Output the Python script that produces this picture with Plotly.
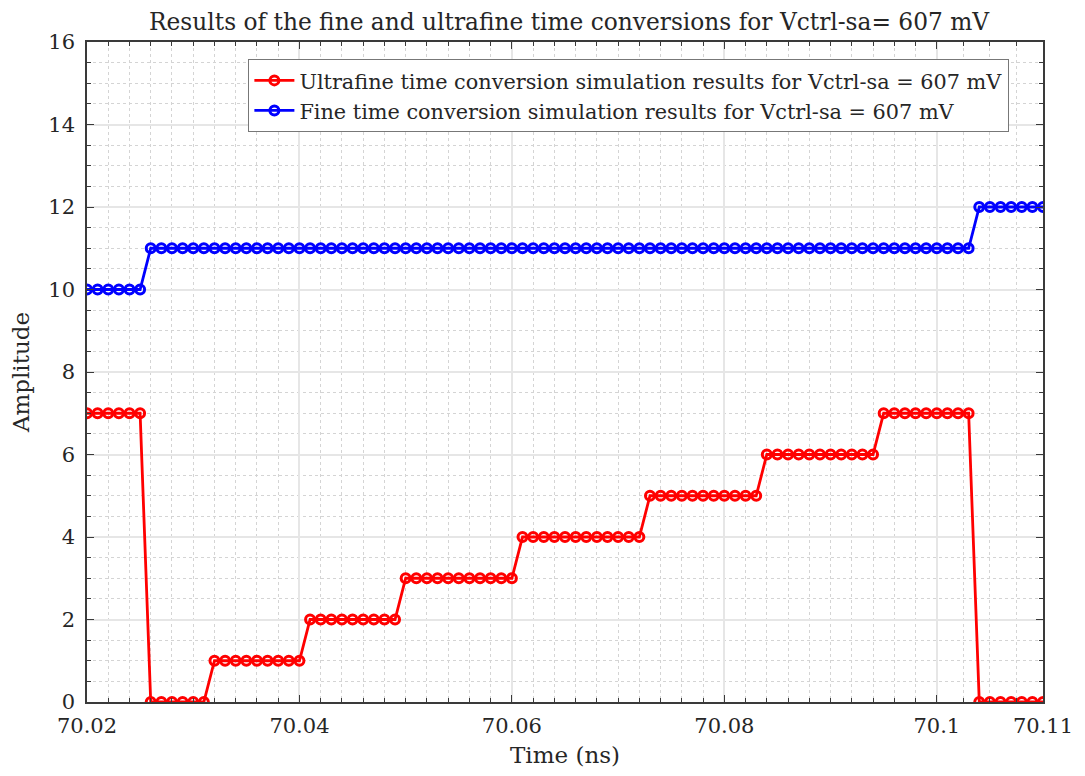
import plotly.graph_objects as go

# Time axis (ns), one sample every 1 ps
time_ns = [
    70.020, 70.021, 70.022, 70.023, 70.024, 70.025, 70.026, 70.027, 70.028, 70.029,
    70.030, 70.031, 70.032, 70.033, 70.034, 70.035, 70.036, 70.037, 70.038, 70.039,
    70.040, 70.041, 70.042, 70.043, 70.044, 70.045, 70.046, 70.047, 70.048, 70.049,
    70.050, 70.051, 70.052, 70.053, 70.054, 70.055, 70.056, 70.057, 70.058, 70.059,
    70.060, 70.061, 70.062, 70.063, 70.064, 70.065, 70.066, 70.067, 70.068, 70.069,
    70.070, 70.071, 70.072, 70.073, 70.074, 70.075, 70.076, 70.077, 70.078, 70.079,
    70.080, 70.081, 70.082, 70.083, 70.084, 70.085, 70.086, 70.087, 70.088, 70.089,
    70.090, 70.091, 70.092, 70.093, 70.094, 70.095, 70.096, 70.097, 70.098, 70.099,
    70.100, 70.101, 70.102, 70.103, 70.104, 70.105, 70.106, 70.107, 70.108, 70.109,
    70.110,
]

ultrafine = [
    7, 7, 7, 7, 7, 7,
    0, 0, 0, 0, 0, 0,
    1, 1, 1, 1, 1, 1, 1, 1, 1,
    2, 2, 2, 2, 2, 2, 2, 2, 2,
    3, 3, 3, 3, 3, 3, 3, 3, 3, 3, 3,
    4, 4, 4, 4, 4, 4, 4, 4, 4, 4, 4, 4,
    5, 5, 5, 5, 5, 5, 5, 5, 5, 5, 5,
    6, 6, 6, 6, 6, 6, 6, 6, 6, 6, 6,
    7, 7, 7, 7, 7, 7, 7, 7, 7,
    0, 0, 0, 0, 0, 0, 0,
]

fine = [
    10, 10, 10, 10, 10, 10,
    11, 11, 11, 11, 11, 11, 11, 11, 11, 11, 11, 11, 11, 11, 11, 11, 11, 11, 11, 11,
    11, 11, 11, 11, 11, 11, 11, 11, 11, 11, 11, 11, 11, 11, 11, 11, 11, 11, 11, 11,
    11, 11, 11, 11, 11, 11, 11, 11, 11, 11, 11, 11, 11, 11, 11, 11, 11, 11, 11, 11,
    11, 11, 11, 11, 11, 11, 11, 11, 11, 11, 11, 11, 11, 11, 11, 11, 11, 11,
    12, 12, 12, 12, 12, 12, 12,
]

x_tickvals = [70.02, 70.04, 70.06, 70.08, 70.10, 70.11]
x_ticktext = ["70.02", "70.04", "70.06", "70.08", "70.1", "70.11"]
x_minor = [70.02 + 0.002 * i for i in range(1, 40) if i % 10 != 0] + [70.1025, 70.105, 70.1075]

series_names = [
    "Ultrafine time conversion simulation results for Vctrl-sa = 607 mV",
    "Fine time conversion simulation results for Vctrl-sa = 607 mV",
]

FONT = "DejaVu Serif"
AXCOL = "#3a3a3a"
TXT = "#262626"

fig = go.Figure()
for y, name, col in [(ultrafine, series_names[0], "#ff0000"), (fine, series_names[1], "#0000ff")]:
    fig.add_trace(go.Scatter(
        x=time_ns, y=y, name=name, mode="lines+markers",
        line=dict(color=col, width=2.8),
        marker=dict(symbol="circle-open", size=9, color=col, line=dict(width=3, color=col)),
    ))

axis_common = dict(
    showline=True, linecolor=AXCOL, linewidth=1.5, mirror="allticks",
    ticks="inside", ticklen=7, tickcolor=AXCOL, tickwidth=1.2,
    showgrid=True, gridcolor="#e6e6e6", gridwidth=1.5, zeroline=False,
    tickfont=dict(family=FONT, size=21, color=TXT),
)

fig.update_xaxes(
    range=[70.02, 70.11], tickmode="array", tickvals=x_tickvals, ticktext=x_ticktext,
    ticklabelstandoff=4,
    title=dict(text="Time (ns)", font=dict(family=FONT, size=23, color=TXT), standoff=10),
    minor=dict(tickmode="array", tickvals=x_minor, ticks="inside", ticklen=4,
               tickcolor=AXCOL, showgrid=True, gridcolor="#d4d4d4", griddash="dot", gridwidth=1),
    **axis_common,
)
fig.update_yaxes(
    range=[0, 16], tickmode="linear", tick0=0, dtick=2,
    ticklabelstandoff=6,
    title=dict(text="Amplitude", font=dict(family=FONT, size=23, color=TXT), standoff=12),
    minor=dict(tickmode="linear", tick0=0, dtick=0.5, ticks="inside", ticklen=4,
               tickcolor=AXCOL, showgrid=True, gridcolor="#d4d4d4", griddash="dot", gridwidth=1),
    **axis_common,
)

fig.update_layout(
    width=1077, height=768,
    margin=dict(l=69, r=35, t=34, b=69),
    paper_bgcolor="white", plot_bgcolor="white",
    title=dict(text="Results of the fine and ultrafine time conversions for Vctrl-sa= 607 mV",
               x=0.521, xanchor="center", y=0.982, yanchor="middle",
               font=dict(family=FONT, size=23.3, color=TXT)),
    legend=dict(x=0.1686, y=0.974, xanchor="left", yanchor="top",
                bgcolor="white", bordercolor="#777777", borderwidth=1.2,
                font=dict(family=FONT, size=20.8, color=TXT),
                tracegroupgap=0, itemwidth=40),
    showlegend=True,
)

fig.write_html("out.html")
